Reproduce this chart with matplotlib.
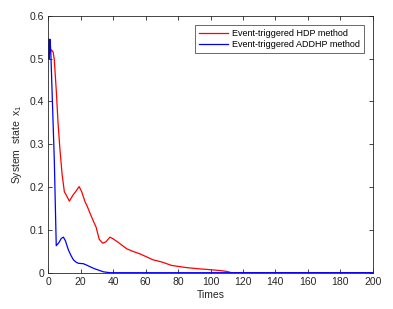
import matplotlib
matplotlib.use("Agg")
import matplotlib.pyplot as plt
import numpy as np

plt.rcParams['font.family'] = ['Liberation Sans', 'DejaVu Sans']
plt.rcParams['mathtext.fontset'] = 'custom'
plt.rcParams['mathtext.rm'] = 'Liberation Sans'
plt.rcParams['mathtext.it'] = 'Liberation Sans'

# Data
t_hdp = [0, 1, 2, 3, 3.7, 5, 6, 7.2, 8.5, 9.9, 11.5, 13, 15, 17, 19, 20.5, 22.6, 24, 25.7, 27.5, 29.4, 31.4, 33.5, 35.5, 38, 40, 43, 48.3, 52, 56.5, 60, 64.6, 70, 76, 85, 93, 100, 106, 110, 113, 120, 200]
x_hdp = [0.50, 0.515, 0.52, 0.515, 0.497, 0.42, 0.35, 0.287, 0.23, 0.189, 0.178, 0.167, 0.18, 0.19, 0.201, 0.19, 0.166, 0.155, 0.139, 0.123, 0.107, 0.078, 0.069, 0.072, 0.083, 0.079, 0.071, 0.056, 0.05, 0.044, 0.038, 0.030, 0.025, 0.017, 0.012, 0.009, 0.007, 0.005, 0.003, 0.0, 0.0, 0.0]

t_addhp = [0, 0.3, 0.6, 1.0, 1.5, 3.7, 4.9, 6.5, 8, 9.3, 10.5, 12.4, 14, 15.5, 17, 18.5, 21.6, 23.5, 25.7, 28.7, 31, 34, 38, 200]
x_addhp = [0.50, 0.545, 0.50, 0.545, 0.52, 0.263, 0.063, 0.07, 0.08, 0.083, 0.075, 0.053, 0.04, 0.03, 0.025, 0.022, 0.021, 0.018, 0.014, 0.009, 0.006, 0.002, 0.0, 0.0]

labels = ['Event-triggered HDP method', 'Event-triggered ADDHP method']

fig = plt.figure(figsize=(3.93, 3.09), dpi=100)
ax = fig.add_axes([48.3/393, 1 - 272.7/309, (372.7-48.3)/393, (272.7-15.7)/309])

ax.plot(t_hdp, x_hdp, color='#ff0000', lw=0.9, label=labels[0])
ax.plot(t_addhp, x_addhp, color='#0000ff', lw=0.9, label=labels[1])

ax.set_xlim(0, 200)
ax.set_ylim(0, 0.6)
ax.set_xticks(np.arange(0, 201, 20))
ax.set_yticks([0, 0.1, 0.2, 0.3, 0.4, 0.5, 0.6])
ax.set_yticklabels(['0', '0.1', '0.2', '0.3', '0.4', '0.5', '0.6'])
ax.tick_params(direction='in', top=True, right=True, labelsize=7.5, length=3, width=0.6, colors='#262626', pad=3)
for s in ax.spines.values():
    s.set_linewidth(0.6)
    s.set_color('#262626')

ax.set_xlabel('Times', fontsize=7.5, color='#262626', labelpad=2)
ax.set_ylabel(r'System  state  x$_{\mathrm{1}}$', fontsize=7.5, color='#262626', labelpad=4)

leg = ax.legend(loc='upper right', fontsize=6.5, frameon=True, fancybox=False,
                edgecolor='#262626', handlelength=3.2, handletextpad=0.5,
                borderpad=0.45, labelspacing=0.25, bbox_to_anchor=(0.974, 0.964),
                borderaxespad=0)
leg.get_frame().set_linewidth(0.6)

fig.savefig('out.png', dpi=100)
